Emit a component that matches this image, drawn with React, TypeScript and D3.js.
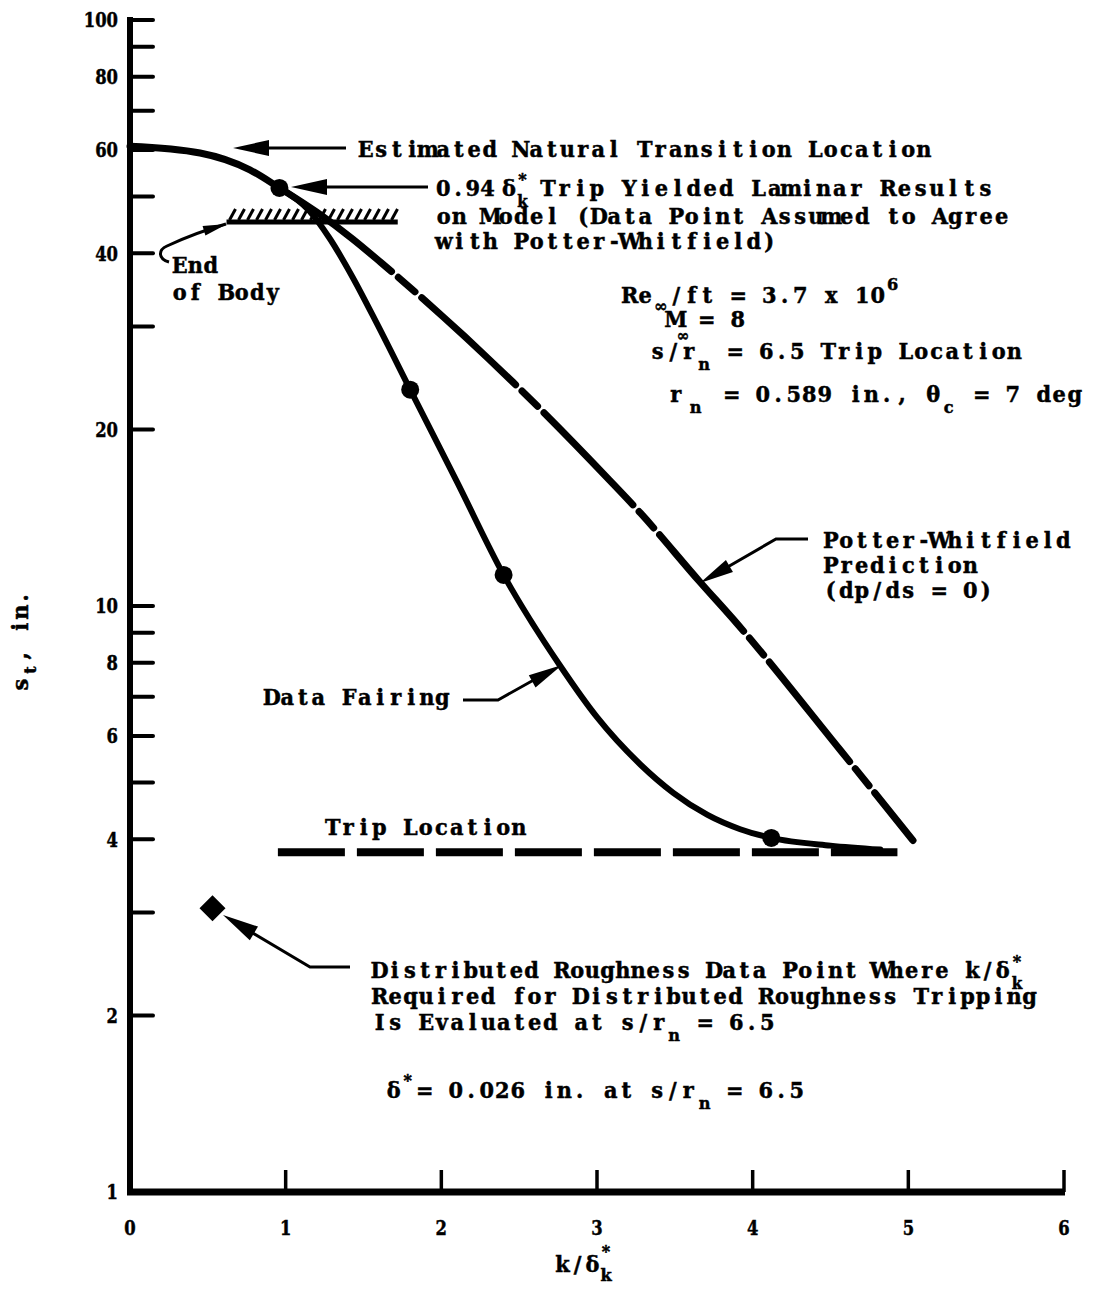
import React, { useLayoutEffect, useRef, useState } from 'react';
import * as d3 from 'd3';

// Axis ticks and labels
const xTickValues = [0, 1, 2, 3, 4, 5, 6];
const xTickMarks = [1, 2, 3, 4, 5, 6];
const yTickValues = [2, 3, 4, 5, 6, 7, 8, 9, 10, 20, 30, 40, 50, 60, 70, 80, 90, 100];
const yLabelValues = [1, 2, 4, 6, 8, 10, 20, 40, 60, 80, 100];

// Potter-Whitfield prediction (k/delta*, s_t)
const potterWhitfield: [number, number][] = [
  [0, 60.9], [0.45, 59.3], [0.77, 55.5], [0.96, 51.7], [1.2, 47.0], [1.43, 42.3],
  [1.61, 38.6], [1.84, 34.2], [2.46, 24.1], [3.08, 16.4], [3.28, 14.4], [3.66, 11.0],
  [3.9, 9.33], [4.56, 5.69], [5.03, 3.98],
];
const pwSolidUntil = 1.68;

// Faired curve through the trip data
const dataFairing: [number, number][] = [
  [0.96, 51.7], [1.15, 47.3], [1.28, 42.5], [1.43, 36.4], [1.59, 30.2], [1.8, 23.4],
  [2.1, 16.3], [2.4, 11.3], [2.76, 7.93], [3.0, 6.46], [3.28, 5.36], [3.49, 4.8],
  [3.71, 4.4], [3.92, 4.16], [4.12, 4.02], [4.5, 3.9], [4.82, 3.84],
];

// Measured trip points
const tripPoints: [number, number][] = [[0.96, 51.7], [1.8, 23.4], [2.4, 11.3], [4.12, 4.02]];
const roughnessPoint: [number, number] = [0.53, 3.05];

// Reference lines
const tripLocation = { value: 3.8, from: 0.95, to: 4.93 };
const endOfBody = { value: 45.2, from: 0.62, to: 1.72 };

const W = 1098;
const H = 1290;

const x = d3.scaleLinear().domain([0, 6]).range([130, 1064]);
const y = d3.scaleLog().domain([1, 100]).range([1192, 20]);

const SERIF = "'DejaVu Serif', 'Liberation Serif', serif";
const ADV = 15.5;
const SUB = 17;

// Typewriter-style line: every character sits centred in a fixed-width cell.
function Mono({
  x0,
  y0,
  s,
  size = 22,
  adv = ADV,
  sx = 0.95,
}: {
  x0: number;
  y0: number;
  s: string;
  size?: number;
  adv?: number;
  sx?: number;
}) {
  const chars = Array.from(s);
  const xs = chars.map((_, i) => ((x0 + (i + 0.5) * adv) / sx).toFixed(2)).join(' ');
  return (
    <text
      transform={`scale(${sx},1)`}
      x={xs}
      y={y0}
      textAnchor="middle"
      xmlSpace="preserve"
      fill="#000"
      stroke="#000"
      strokeWidth={0.5}
      style={{ whiteSpace: 'pre', fontFamily: SERIF, fontWeight: 700, fontSize: size }}
    >
      {s}
    </text>
  );
}

function head(tip: [number, number], from: [number, number], len = 34, hw = 7) {
  const dx = tip[0] - from[0];
  const dy = tip[1] - from[1];
  const d = Math.hypot(dx, dy);
  const ux = dx / d;
  const uy = dy / d;
  const bx = tip[0] - ux * len;
  const by = tip[1] - uy * len;
  const px = -uy;
  const py = ux;
  return `M${tip[0]},${tip[1]}L${bx + px * hw},${by + py * hw}L${bx - px * hw},${by - py * hw}Z`;
}

export default function App() {
  const line = d3
    .line<[number, number]>()
    .x((d) => x(d[0]))
    .y((d) => y(d[1]))
    .curve(d3.curveMonotoneX);

  const pwPath = line(potterWhitfield) || '';
  const fairPath = line(dataFairing) || '';

  const pwRef = useRef<SVGPathElement>(null);
  const [pwDash, setPwDash] = useState<string | undefined>(undefined);

  useLayoutEffect(() => {
    const p = pwRef.current;
    if (!p) return;
    const total = p.getTotalLength();
    const split = x(pwSolidUntil);
    let lo = 0;
    let hi = total;
    for (let i = 0; i < 40; i++) {
      const mid = (lo + hi) / 2;
      if (p.getPointAtLength(mid).x < split) lo = mid;
      else hi = mid;
    }
    const arr = [lo];
    let acc = lo;
    const pat = [9, 22, 9, 128];
    let i = 0;
    while (acc < total + 300) {
      arr.push(pat[i % 4]);
      acc += pat[i % 4];
      i++;
    }
    if (arr.length % 2 === 1) arr.push(400);
    setPwDash(arr.map((v) => v.toFixed(1)).join(' '));
  }, [pwPath]);

  const hatchY = y(endOfBody.value);
  const hatchX0 = x(endOfBody.from);
  const hatchX1 = x(endOfBody.to);
  const hatches: number[] = d3.range(hatchX0 + 6, hatchX1 - 2, 9);

  const rx = x(roughnessPoint[0]);
  const ry = y(roughnessPoint[1]);
  const dr = 13;

  const tickSx = 0.8;

  return (
    <svg
      width={W}
      height={H}
      viewBox={`0 0 ${W} ${H}`}
      style={{ position: 'absolute', left: 0, top: 0, background: '#fff' }}
    >
      <rect width={W} height={H} fill="#fff" />

      {/* axes */}
      <line x1={130} y1={17} x2={130} y2={1195} stroke="#000" strokeWidth={6} />
      <line x1={127} y1={1192} x2={1065} y2={1192} stroke="#000" strokeWidth={7} />
      {yTickValues.map((v) => (
        <line key={`yt${v}`} x1={130} x2={153} y1={y(v)} y2={y(v)} stroke="#000" strokeWidth={4} strokeLinecap="round" />
      ))}
      {xTickMarks.map((v) => (
        <line key={`xt${v}`} x1={x(v)} x2={x(v)} y1={1192} y2={1170} stroke="#000" strokeWidth={3.5} />
      ))}
      {yLabelValues.map((v) => (
        <text
          key={`yl${v}`}
          transform={`scale(${tickSx},1)`}
          x={118 / tickSx}
          y={y(v)}
          dy="0.36em"
          textAnchor="end"
          stroke="#000"
          strokeWidth={0.5}
          style={{ fontFamily: SERIF, fontWeight: 700, fontSize: 20.5 }}
        >
          {v}
        </text>
      ))}
      {xTickValues.map((v) => (
        <text
          key={`xl${v}`}
          transform={`scale(${tickSx},1)`}
          x={x(v) / tickSx}
          y={1235}
          textAnchor="middle"
          stroke="#000"
          strokeWidth={0.5}
          style={{ fontFamily: SERIF, fontWeight: 700, fontSize: 20.5 }}
        >
          {v}
        </text>
      ))}

      {/* axis titles */}
      <Mono x0={555} y0={1272} s="k/δ" adv={15} />
      <Mono x0={599} y0={1257} s="*" size={SUB} adv={14} />
      <Mono x0={599} y0={1281} s="k" size={SUB} adv={14} />
      <g transform="rotate(-90)">
        <Mono x0={-692} y0={28} s="s" adv={14.5} />
        <Mono x0={-677} y0={36} s="t" size={SUB} adv={14} />
        <Mono x0={-663} y0={28} s=", in." adv={14.5} />
      </g>

      {/* end-of-body hatched line */}
      <line x1={hatchX0} x2={hatchX1} y1={hatchY} y2={hatchY} stroke="#000" strokeWidth={5} />
      {hatches.map((hx, i) => (
        <line key={`h${i}`} x1={hx - 3} y1={hatchY - 2} x2={hx + 3} y2={hatchY - 13} stroke="#000" strokeWidth={3} />
      ))}

      {/* trip location */}
      <line
        x1={x(tripLocation.from)}
        x2={x(tripLocation.to)}
        y1={y(tripLocation.value)}
        y2={y(tripLocation.value)}
        stroke="#000"
        strokeWidth={8}
        strokeDasharray="67 12"
      />

      {/* curves */}
      <path
        ref={pwRef}
        d={pwPath}
        fill="none"
        stroke="#000"
        strokeWidth={7}
        strokeLinecap="round"
        strokeDasharray={pwDash}
      />
      <path d={fairPath} fill="none" stroke="#000" strokeWidth={6} strokeLinecap="round" />

      {tripPoints.map((d, i) => (
        <circle key={`p${i}`} cx={x(d[0])} cy={y(d[1])} r={9} fill="#000" />
      ))}
      <path d={`M${rx},${ry - dr}L${rx + dr},${ry}L${rx},${ry + dr}L${rx - dr},${ry}Z`} fill="#000" />

      {/* annotation leaders */}
      <g stroke="#000" fill="none" strokeWidth={3}>
        <line x1={346} y1={148} x2={262} y2={148} />
        <line x1={428} y1={187} x2={318} y2={187} />
        <path d="M169,262 C158,259 158,250 167,246 C184,238 205,230 226,224" />
        <polyline points="808,539 776,539 712,576" />
        <polyline points="463,700 498,700 548,672" />
        <polyline points="350,967 310,967 246,929" />
      </g>
      <g fill="#000">
        <path d={head([233, 148], [346, 148], 36, 8)} />
        <path d={head([291, 187], [428, 187], 36, 8)} />
        <path d={head([227, 224], [200, 232], 24, 5)} />
        <path d={head([700, 583], [776, 539], 34, 7)} />
        <path d={head([562, 665], [498, 700], 34, 7)} />
        <path d={head([223, 915], [310, 967], 36, 8)} />
      </g>

      {/* annotation texts */}
      <Mono x0={358} y0={157} s="Estimated Natural Transition Location" />

      <Mono x0={436} y0={196} s="0.94" adv={14.75} />
      <Mono x0={502} y0={196} s="δ" adv={14} />
      <Mono x0={516} y0={185} s="*" size={SUB} adv={13} />
      <Mono x0={516} y0={207} s="k" size={16} adv={13} />
      <Mono x0={540} y0={196} s="Trip Yielded Laminar Results" adv={16.2} />
      <Mono x0={436} y0={224} s="on Model (Data Point Assumed to Agree" />
      <Mono x0={436} y0={249} s="with Potter-Whitfield)" />

      <Mono x0={172} y0={273} s="End" />
      <Mono x0={172} y0={300} s="of Body" />

      <Mono x0={622} y0={303} s="Re" />
      <Mono x0={653} y0={312} s="∞" size={SUB} />
      <Mono x0={668.5} y0={303} s="/ft = 3.7 x 10" />
      <Mono x0={885} y0={290} s="6" size={SUB} />

      <Mono x0={668} y0={327} s="M" />
      <Mono x0={675} y0={341} s="∞" size={16} />
      <Mono x0={699} y0={327} s="= 8" />

      <Mono x0={650} y0={359} s="s/r" />
      <Mono x0={696.5} y0={370} s="n" size={SUB} />
      <Mono x0={727.5} y0={359} s="= 6.5 Trip Location" />

      <Mono x0={668} y0={402} s="r" />
      <Mono x0={688} y0={413} s="n" size={SUB} />
      <Mono x0={724} y0={402} s="= 0.589 in., θ" />
      <Mono x0={941} y0={413} s="c" size={SUB} />
      <Mono x0={974} y0={402} s="= 7 deg" />

      <Mono x0={823} y0={548} s="Potter-Whitfield" />
      <Mono x0={823} y0={573} s="Prediction" />
      <Mono x0={823} y0={598} s="(dp/ds = 0)" />

      <Mono x0={264} y0={705} s="Data Fairing" />

      <Mono x0={325} y0={835} s="Trip Location" />

      <Mono x0={372} y0={978} s="Distributed Roughness Data Point Where k/δ" adv={15.2} />
      <Mono x0={1010} y0={967} s="*" size={SUB} adv={14} />
      <Mono x0={1010} y0={989} s="k" size={16} adv={14} />
      <Mono x0={372} y0={1004} s="Required for Distributed Roughness Tripping" adv={15.47} />
      <Mono x0={372} y0={1030} s="Is Evaluated at s/r" />
      <Mono x0={666.5} y0={1041} s="n" size={SUB} />
      <Mono x0={697.5} y0={1030} s="= 6.5" />

      <Mono x0={386} y0={1098} s="δ" />
      <Mono x0={400} y0={1086} s="*" size={SUB} />
      <Mono x0={417} y0={1098} s="= 0.026 in. at s/r" />
      <Mono x0={697} y0={1109} s="n" size={SUB} />
      <Mono x0={727} y0={1098} s="= 6.5" />
    </svg>
  );
}
